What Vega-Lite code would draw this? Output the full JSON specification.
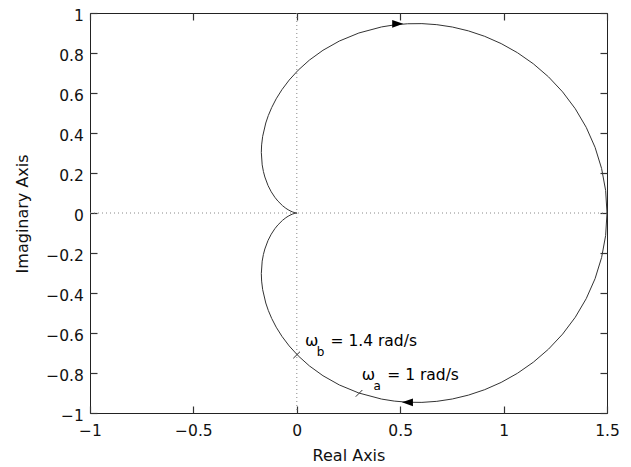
{
  "$schema": "https://vega.github.io/schema/vega-lite/v6.json",
  "width": 517,
  "height": 400,
  "autosize": {"type": "none"},
  "padding": {"left": 90, "top": 13, "right": 24, "bottom": 54},
  "background": "white",
  "config": {
    "view": {"stroke": "#222", "strokeWidth": 1},
    "font": "DejaVu Sans",
    "axis": {"grid": false, "domain": false, "labelFont": "DejaVu Sans", "titleFont": "DejaVu Sans", "labelColor": "#111", "titleColor": "#111", "titleFontWeight": "normal"}
  },
  "datasets": {
    "curve": [
      {"w": -1000, "re": 0, "im": 0},
      {"w": -25, "re": -0.0048, "im": 0.0006},
      {"w": -15, "re": -0.0129, "im": 0.0026},
      {"w": -12, "re": -0.0199, "im": 0.005},
      {"w": -10, "re": -0.028, "im": 0.0086},
      {"w": -8, "re": -0.0421, "im": 0.0163},
      {"w": -7, "re": -0.0532, "im": 0.0238},
      {"w": -6, "re": -0.0689, "im": 0.0365},
      {"w": -5, "re": -0.0915, "im": 0.0597},
      {"w": -4.5, "re": -0.1062, "im": 0.0786},
      {"w": -4, "re": -0.1235, "im": 0.1059},
      {"w": -3.6, "re": -0.1389, "im": 0.1368},
      {"w": -3.2, "re": -0.1544, "im": 0.1799},
      {"w": -3.0, "re": -0.1615, "im": 0.2077},
      {"w": -2.8, "re": -0.1674, "im": 0.2408},
      {"w": -2.5, "re": -0.1716, "im": 0.3028},
      {"w": -2.35, "re": -0.1701, "im": 0.3405},
      {"w": -2.2, "re": -0.165, "im": 0.3835},
      {"w": -2.0, "re": -0.15, "im": 0.45},
      {"w": -1.9, "re": -0.1377, "im": 0.4874},
      {"w": -1.8, "re": -0.1212, "im": 0.5277},
      {"w": -1.7, "re": -0.0996, "im": 0.5709},
      {"w": -1.6, "re": -0.0719, "im": 0.6166},
      {"w": -1.5, "re": -0.0369, "im": 0.6646},
      {"w": -1.4, "re": 0.0068, "im": 0.7142},
      {"w": -1.3, "re": 0.0608, "im": 0.7644},
      {"w": -1.2, "re": 0.1266, "im": 0.8136},
      {"w": -1.1, "re": 0.2058, "im": 0.8598},
      {"w": -1.0, "re": 0.3, "im": 0.9},
      {"w": -0.9, "re": 0.4101, "im": 0.9304},
      {"w": -0.85, "re": 0.4711, "im": 0.9404},
      {"w": -0.8, "re": 0.5362, "im": 0.9462},
      {"w": -0.75, "re": 0.6049, "im": 0.9469},
      {"w": -0.7, "re": 0.6771, "im": 0.9417},
      {"w": -0.65, "re": 0.7523, "im": 0.9299},
      {"w": -0.6, "re": 0.8297, "im": 0.9107},
      {"w": -0.55, "re": 0.9087, "im": 0.8833},
      {"w": -0.5, "re": 0.9882, "im": 0.8471},
      {"w": -0.45, "re": 1.0671, "im": 0.8014},
      {"w": -0.4, "re": 1.1439, "im": 0.746},
      {"w": -0.35, "re": 1.2172, "im": 0.6807},
      {"w": -0.3, "re": 1.2853, "im": 0.6056},
      {"w": -0.25, "re": 1.3466, "im": 0.5213},
      {"w": -0.2, "re": 1.3995, "im": 0.4284},
      {"w": -0.15, "re": 1.4424, "im": 0.3282},
      {"w": -0.1, "re": 1.474, "im": 0.2222},
      {"w": -0.05, "re": 1.4935, "im": 0.1122},
      {"w": 0, "re": 1.5, "im": 0},
      {"w": 0.05, "re": 1.4935, "im": -0.1122},
      {"w": 0.1, "re": 1.474, "im": -0.2222},
      {"w": 0.15, "re": 1.4424, "im": -0.3282},
      {"w": 0.2, "re": 1.3995, "im": -0.4284},
      {"w": 0.25, "re": 1.3466, "im": -0.5213},
      {"w": 0.3, "re": 1.2853, "im": -0.6056},
      {"w": 0.35, "re": 1.2172, "im": -0.6807},
      {"w": 0.4, "re": 1.1439, "im": -0.746},
      {"w": 0.45, "re": 1.0671, "im": -0.8014},
      {"w": 0.5, "re": 0.9882, "im": -0.8471},
      {"w": 0.55, "re": 0.9087, "im": -0.8833},
      {"w": 0.6, "re": 0.8297, "im": -0.9107},
      {"w": 0.65, "re": 0.7523, "im": -0.9299},
      {"w": 0.7, "re": 0.6771, "im": -0.9417},
      {"w": 0.75, "re": 0.6049, "im": -0.9469},
      {"w": 0.8, "re": 0.5362, "im": -0.9462},
      {"w": 0.85, "re": 0.4711, "im": -0.9404},
      {"w": 0.9, "re": 0.4101, "im": -0.9304},
      {"w": 1.0, "re": 0.3, "im": -0.9},
      {"w": 1.1, "re": 0.2058, "im": -0.8598},
      {"w": 1.2, "re": 0.1266, "im": -0.8136},
      {"w": 1.3, "re": 0.0608, "im": -0.7644},
      {"w": 1.4, "re": 0.0068, "im": -0.7142},
      {"w": 1.5, "re": -0.0369, "im": -0.6646},
      {"w": 1.6, "re": -0.0719, "im": -0.6166},
      {"w": 1.7, "re": -0.0996, "im": -0.5709},
      {"w": 1.8, "re": -0.1212, "im": -0.5277},
      {"w": 1.9, "re": -0.1377, "im": -0.4874},
      {"w": 2.0, "re": -0.15, "im": -0.45},
      {"w": 2.2, "re": -0.165, "im": -0.3835},
      {"w": 2.35, "re": -0.1701, "im": -0.3405},
      {"w": 2.5, "re": -0.1716, "im": -0.3028},
      {"w": 2.8, "re": -0.1674, "im": -0.2408},
      {"w": 3.0, "re": -0.1615, "im": -0.2077},
      {"w": 3.2, "re": -0.1544, "im": -0.1799},
      {"w": 3.6, "re": -0.1389, "im": -0.1368},
      {"w": 4, "re": -0.1235, "im": -0.1059},
      {"w": 4.5, "re": -0.1062, "im": -0.0786},
      {"w": 5, "re": -0.0915, "im": -0.0597},
      {"w": 6, "re": -0.0689, "im": -0.0365},
      {"w": 7, "re": -0.0532, "im": -0.0238},
      {"w": 8, "re": -0.0421, "im": -0.0163},
      {"w": 10, "re": -0.028, "im": -0.0086},
      {"w": 12, "re": -0.0199, "im": -0.005},
      {"w": 15, "re": -0.0129, "im": -0.0026},
      {"w": 25, "re": -0.0048, "im": -0.0006},
      {"w": 1000, "re": 0, "im": 0}
    ],
    "marks": [
      {"g": "a", "re": 0.285, "im": -0.9185},
      {"g": "a", "re": 0.317, "im": -0.885},
      {"g": "b", "re": -0.017, "im": -0.7265},
      {"g": "b", "re": 0.0155, "im": -0.6935}
    ],
    "labels": [
      {"re": 0.0397, "im": -0.665, "sym": "ω", "sub": "b", "txt": "= 1.4 rad/s"},
      {"re": 0.314, "im": -0.835, "sym": "ω", "sub": "a", "txt": "= 1 rad/s"}
    ],
    "arrows": [
      {"re": 0.488, "im": 0.946, "dir": "right"},
      {"re": 0.535, "im": -0.9465, "dir": "left"}
    ]
  },
  "resolve": {"axis": {"x": "independent", "y": "independent"}},
  "layer": [
    {
      "data": {"values": [{"v": 0}]},
      "mark": {"type": "rule", "color": "#888", "strokeDash": [1, 3], "strokeWidth": 1},
      "encoding": {
        "x": {"field": "v", "type": "quantitative",
          "scale": {"domain": [-1, 1.5], "nice": false, "zero": false},
          "axis": {"orient": "bottom", "title": "Real Axis", "values": [-1, -0.5, 0, 0.5, 1, 1.5], "format": "~g",
            "ticks": false, "labelPadding": 10.5, "labelFontSize": 15.5, "labelFlush": false,
            "titleFontSize": 16, "titleX": 258.5, "titleY": 47, "titleBaseline": "alphabetic", "titleAlign": "center"}}
      }
    },
    {
      "data": {"values": [{"v": 0}]},
      "mark": {"type": "rule", "color": "#888", "strokeDash": [1, 3], "strokeWidth": 1},
      "encoding": {
        "y": {"field": "v", "type": "quantitative",
          "scale": {"domain": [-1, 1], "nice": false, "zero": false},
          "axis": {"orient": "left", "title": "Imaginary Axis", "values": [-1, -0.8, -0.6, -0.4, -0.2, 0, 0.2, 0.4, 0.6, 0.8, 1], "format": "~g",
            "ticks": false, "labelPadding": 6.7, "labelFontSize": 15.5, "labelFlush": false, "labelOffset": 2,
            "titleFontSize": 16, "titleX": -62.7, "titleY": 200.4, "titleAngle": -90, "titleBaseline": "alphabetic", "titleAlign": "center"}}
      }
    },
    {
      "data": {"name": "curve"},
      "mark": {"type": "line", "color": "#333", "strokeWidth": 1},
      "encoding": {
        "x": {"field": "re", "type": "quantitative", "scale": {"domain": [-1, 1.5], "nice": false, "zero": false},
          "axis": {"orient": "top", "title": null, "labels": false, "values": [-1, -0.5, 0, 0.5, 1, 1.5], "ticks": true, "tickSize": -7, "tickWidth": 1.2, "tickColor": "#333"}},
        "y": {"field": "im", "type": "quantitative", "scale": {"domain": [-1, 1], "nice": false, "zero": false},
          "axis": {"orient": "right", "title": null, "labels": false, "values": [-1, -0.8, -0.6, -0.4, -0.2, 0, 0.2, 0.4, 0.6, 0.8, 1], "ticks": true, "tickSize": -7, "tickWidth": 1.2, "tickColor": "#333"}},
        "order": {"field": "w", "type": "quantitative"}
      }
    },
    {
      "data": {"name": "marks"},
      "mark": {"type": "line", "color": "#333", "strokeWidth": 1},
      "encoding": {
        "x": {"field": "re", "type": "quantitative",
          "axis": {"orient": "bottom", "title": null, "labels": false, "values": [-1, -0.5, 0, 0.5, 1, 1.5], "ticks": true, "tickSize": -7, "tickWidth": 1.2, "tickColor": "#333"}},
        "y": {"field": "im", "type": "quantitative",
          "axis": {"orient": "left", "title": null, "labels": false, "values": [-1, -0.8, -0.6, -0.4, -0.2, 0, 0.2, 0.4, 0.6, 0.8, 1], "ticks": true, "tickSize": -7, "tickWidth": 1.2, "tickColor": "#333"}},
        "detail": {"field": "g", "type": "nominal"}
      }
    },
    {
      "data": {"name": "arrows"},
      "mark": {"type": "point", "filled": true, "color": "black", "opacity": 1, "size": 121},
      "encoding": {
        "x": {"field": "re", "type": "quantitative", "axis": null},
        "y": {"field": "im", "type": "quantitative", "axis": null},
        "shape": {"field": "dir", "type": "nominal", "legend": null,
          "scale": {"domain": ["left", "right"], "range": ["M 1 -0.7 L -1 0 L 1 0.7 Z", "M -1 -0.7 L 1 0 L -1 0.7 Z"]}}
      }
    },
    {
      "data": {"name": "labels"},
      "mark": {"type": "text", "align": "left", "baseline": "alphabetic", "fontSize": 16, "font": "DejaVu Sans", "color": "black"},
      "encoding": {
        "x": {"field": "re", "type": "quantitative", "axis": null},
        "y": {"field": "im", "type": "quantitative", "axis": null},
        "text": {"field": "sym"}
      }
    },
    {
      "data": {"name": "labels"},
      "mark": {"type": "text", "align": "left", "baseline": "alphabetic", "fontSize": 12, "font": "DejaVu Sans", "color": "black", "dx": 11.7, "dy": 10},
      "encoding": {
        "x": {"field": "re", "type": "quantitative", "axis": null},
        "y": {"field": "im", "type": "quantitative", "axis": null},
        "text": {"field": "sub"}
      }
    },
    {
      "data": {"name": "labels"},
      "mark": {"type": "text", "align": "left", "baseline": "alphabetic", "fontSize": 15.5, "font": "DejaVu Sans", "color": "black", "dx": 25.5},
      "encoding": {
        "x": {"field": "re", "type": "quantitative", "axis": null},
        "y": {"field": "im", "type": "quantitative", "axis": null},
        "text": {"field": "txt"}
      }
    }
  ]
}
